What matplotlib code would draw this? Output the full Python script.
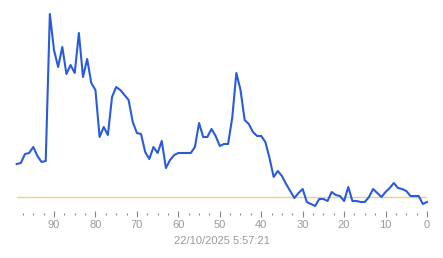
import matplotlib
matplotlib.use("Agg")
import matplotlib.pyplot as plt
from matplotlib.ticker import MultipleLocator
import numpy as np

seconds_ago = np.arange(99, -1, -1)
values = [56, 57, 66, 67, 73, 64, 58, 59, 206, 170,
          153, 173, 146, 155, 147, 187, 143, 161, 137, 130,
          83, 93, 85, 123, 133, 130, 125, 120, 98, 87,
          86, 68, 61, 73, 67, 79, 52, 60, 65, 67,
          67, 67, 67, 73, 97, 83, 83, 91, 84, 74,
          76, 76, 102, 147, 130, 100, 96, 88, 84, 84,
          78, 62, 43, 49, 44, 36, 29, 22, 27, 31,
          18, 16, 14, 21, 21, 19, 28, 25, 24, 19,
          33, 19, 19, 18, 18, 23, 31, 27, 23, 28,
          32, 37, 32, 31, 29, 24, 24, 24, 16, 18]
threshold = 23
timestamp = "22/10/2025 5:57:21"

grey = "#9a9a9a"
plt.rcParams["font.family"] = ["Liberation Sans", "DejaVu Sans"]

fig = plt.figure(figsize=(4.43, 2.58), dpi=100)
ax = fig.add_axes([16.7 / 443, 44 / 258, 410.3 / 443, 210 / 258])

ax.axhline(threshold, color="#ecd27a", lw=1.0, zorder=1)
ax.plot(seconds_ago, values, color="#2a5bdb", lw=1.5, zorder=2, clip_on=False)

ax.set_xlim(99, 0)
ax.set_ylim(6, 216)

for s in ax.spines.values():
    s.set_visible(False)
ax.yaxis.set_visible(False)
ax.xaxis.set_major_locator(MultipleLocator(10))
ax.xaxis.set_minor_locator(MultipleLocator(2.5))
ax.tick_params(axis="x", which="major", direction="inout", length=5, width=0.8,
               color="#888888", labelcolor=grey, labelsize=8, pad=2)
ax.tick_params(axis="x", which="minor", direction="inout", length=1.5, width=0.8,
               color="#888888")
ax.set_xlabel(timestamp, color=grey, fontsize=8, labelpad=4)

fig.savefig("out.png", dpi=100)
